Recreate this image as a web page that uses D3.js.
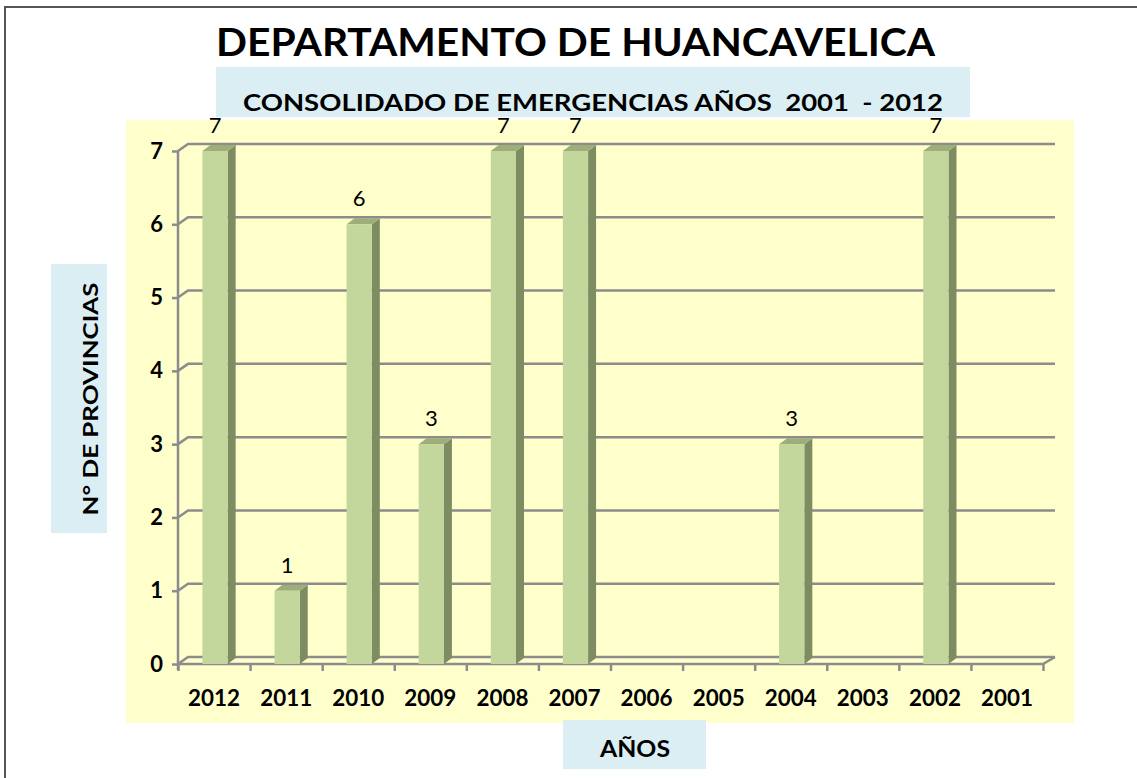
<!DOCTYPE html>
<html>
<head>
<meta charset="utf-8">
<script src="https://cdn.jsdelivr.net/npm/d3@7"></script>
<style>
  body { margin: 0; background: #fff; }
  text { font-family: Lato, "Open Sans", sans-serif; }
  .grid line, .grid path { stroke: #8c8c8c; }
</style>
</head>
<body>
<div id="chart"></div>
<script>
'use strict';

const TITLE = 'DEPARTAMENTO DE HUANCAVELICA'
const SUBTITLE = 'CONSOLIDADO DE EMERGENCIAS AÑOS  2001  - 2012'
const Y_LABEL = 'N° DE PROVINCIAS'
const X_LABEL = 'AÑOS'
const YEARS = ['2012','2011','2010','2009','2008','2007','2006','2005','2004','2003','2002','2001']
const PROVINCIAS = [7, 1, 6, 3, 7, 7, null, null, 3, null, 7, null]
const Y_TICKS = [0, 1, 2, 3, 4, 5, 6, 7]

const W = 1137, H = 778
const DX = 10, DY = 7      // depth of the back wall
const BX = 8, BY = 6       // depth of each bar

const svg = d3.select('#chart').append('svg')
  .attr('width', W).attr('height', H)

// frame
svg.append('path')
  .attr('d', 'M5,' + H + ' V7 H' + W)
  .attr('fill', 'none').attr('stroke', '#555').attr('stroke-width', 2)

// boxes
svg.append('rect').attr('x', 126).attr('y', 120).attr('width', 948).attr('height', 603).attr('fill', '#ffffcc')
svg.append('rect').attr('x', 216).attr('y', 67).attr('width', 754).attr('height', 50).attr('fill', '#dbeef4')
svg.append('rect').attr('x', 51).attr('y', 264).attr('width', 56).attr('height', 269).attr('fill', '#dbeef4')
svg.append('rect').attr('x', 563).attr('y', 720).attr('width', 143).attr('height', 49).attr('fill', '#dbeef4')

// titles
svg.append('text').text(TITLE)
  .attr('x', 216).attr('y', 56)
  .attr('textLength', 719).attr('lengthAdjust', 'spacingAndGlyphs')
  .style('font-size', '39px').style('font-weight', 'bold')
svg.append('text').text(SUBTITLE)
  .attr('x', 243).attr('y', 111)
  .attr('textLength', 700).attr('lengthAdjust', 'spacingAndGlyphs')
  .style('white-space', 'pre')
  .style('font-size', '22px').style('font-weight', 'bold')
svg.append('text').text(Y_LABEL)
  .attr('transform', 'translate(98,399) rotate(-90)')
  .attr('text-anchor', 'middle')
  .attr('textLength', 233).attr('lengthAdjust', 'spacingAndGlyphs')
  .style('font-size', '20px').style('font-weight', 'bold')
svg.append('text').text(X_LABEL)
  .attr('x', 635).attr('y', 757).attr('text-anchor', 'middle')
  .attr('textLength', 70).attr('lengthAdjust', 'spacingAndGlyphs')
  .style('font-size', '22px').style('font-weight', 'bold')

// scales
const x = d3.scaleBand().domain(YEARS).range([178, 1043])
const y = d3.scaleLinear().domain([0, 7]).range([664, 151])
const xEdge = d3.scaleLinear().domain([0, YEARS.length]).range([178, 1043])

// gridlines on the back wall, with the short diagonal to the front axis
const grid = svg.append('g').attr('class', 'grid')
grid.selectAll('path.gl').data(Y_TICKS).enter().append('path')
  .attr('class', 'gl')
  .attr('d', v => 'M178,' + y(v) + ' L' + (178 + DX) + ',' + (y(v) - DY) + ' H' + (1043 + DX + 2))
  .attr('fill', 'none').attr('stroke-width', 2.5)
// floor right edge
grid.append('path')
  .attr('d', 'M178,' + y(0) + ' H1043 L' + (1043 + DX + 2) + ',' + (y(0) - DY))
  .attr('fill', 'none').attr('stroke-width', 2.5)
// left axis
grid.append('line').attr('x1', 178).attr('x2', 178).attr('y1', y(7)).attr('y2', y(0) + 6).attr('stroke-width', 2.5)

const yAxis = d3.axisLeft(y).tickValues(Y_TICKS).tickSize(6).tickPadding(9).tickFormat(d3.format('d'))
const gy = svg.append('g').attr('class', 'grid').attr('transform', 'translate(178,0)').call(yAxis)
gy.select('.domain').remove()
gy.selectAll('.tick line').attr('stroke-width', 2.5)
gy.selectAll('.tick text').style('font-size', '22px').style('font-weight', 'bold').attr('fill', '#000')

const edgeAxis = d3.axisBottom(xEdge).ticks(YEARS.length).tickSize(7).tickFormat('')
const ge = svg.append('g').attr('class', 'grid').attr('transform', 'translate(0,' + y(0) + ')').call(edgeAxis)
ge.select('.domain').remove()
ge.selectAll('.tick line').attr('stroke-width', 2.5)

const xAxis = d3.axisBottom(x).tickSize(0).tickPadding(26)
const gx = svg.append('g').attr('transform', 'translate(0,' + y(0) + ')').call(xAxis)
gx.select('.domain').remove()
gx.selectAll('.tick text')
  .attr('textLength', 52).attr('lengthAdjust', 'spacingAndGlyphs')
  .style('font-size', '22px').style('font-weight', 'bold').attr('fill', '#000')

// bars
const data = YEARS.map((yr, i) => ({ year: yr, value: PROVINCIAS[i] })).filter(d => d.value != null)
const barW = x.bandwidth() * 0.35
const bx0 = d => x(d.year) + x.bandwidth() / 2 - barW / 2 + 1

const bars = svg.append('g').selectAll('g').data(data).enter().append('g')
bars.append('path')
  .attr('d', d => {
    const a = bx0(d) + barW, t = y(d.value), b = y(0)
    return 'M' + a + ',' + t + ' L' + (a + BX) + ',' + (t - BY) + ' V' + (b - BY) + ' L' + a + ',' + b + 'Z'
  })
  .attr('fill', '#7e8c61')
bars.append('path')
  .attr('d', d => {
    const a = bx0(d), t = y(d.value)
    return 'M' + a + ',' + t + ' L' + (a + BX) + ',' + (t - BY) + ' H' + (a + barW + BX) + ' L' + (a + barW) + ',' + t + 'Z'
  })
  .attr('fill', '#9dae78')
bars.append('rect')
  .attr('x', bx0).attr('y', d => y(d.value))
  .attr('width', barW).attr('height', d => y(0) - y(d.value))
  .attr('fill', '#c3d69b')

// value labels
bars.append('text')
  .attr('x', d => x(d.year) + x.bandwidth() / 2 + 1)
  .attr('y', d => y(d.value) - 18)
  .attr('text-anchor', 'middle')
  .style('font-size', '22px')
  .text(d => d.value)
</script>
</body>
</html>
